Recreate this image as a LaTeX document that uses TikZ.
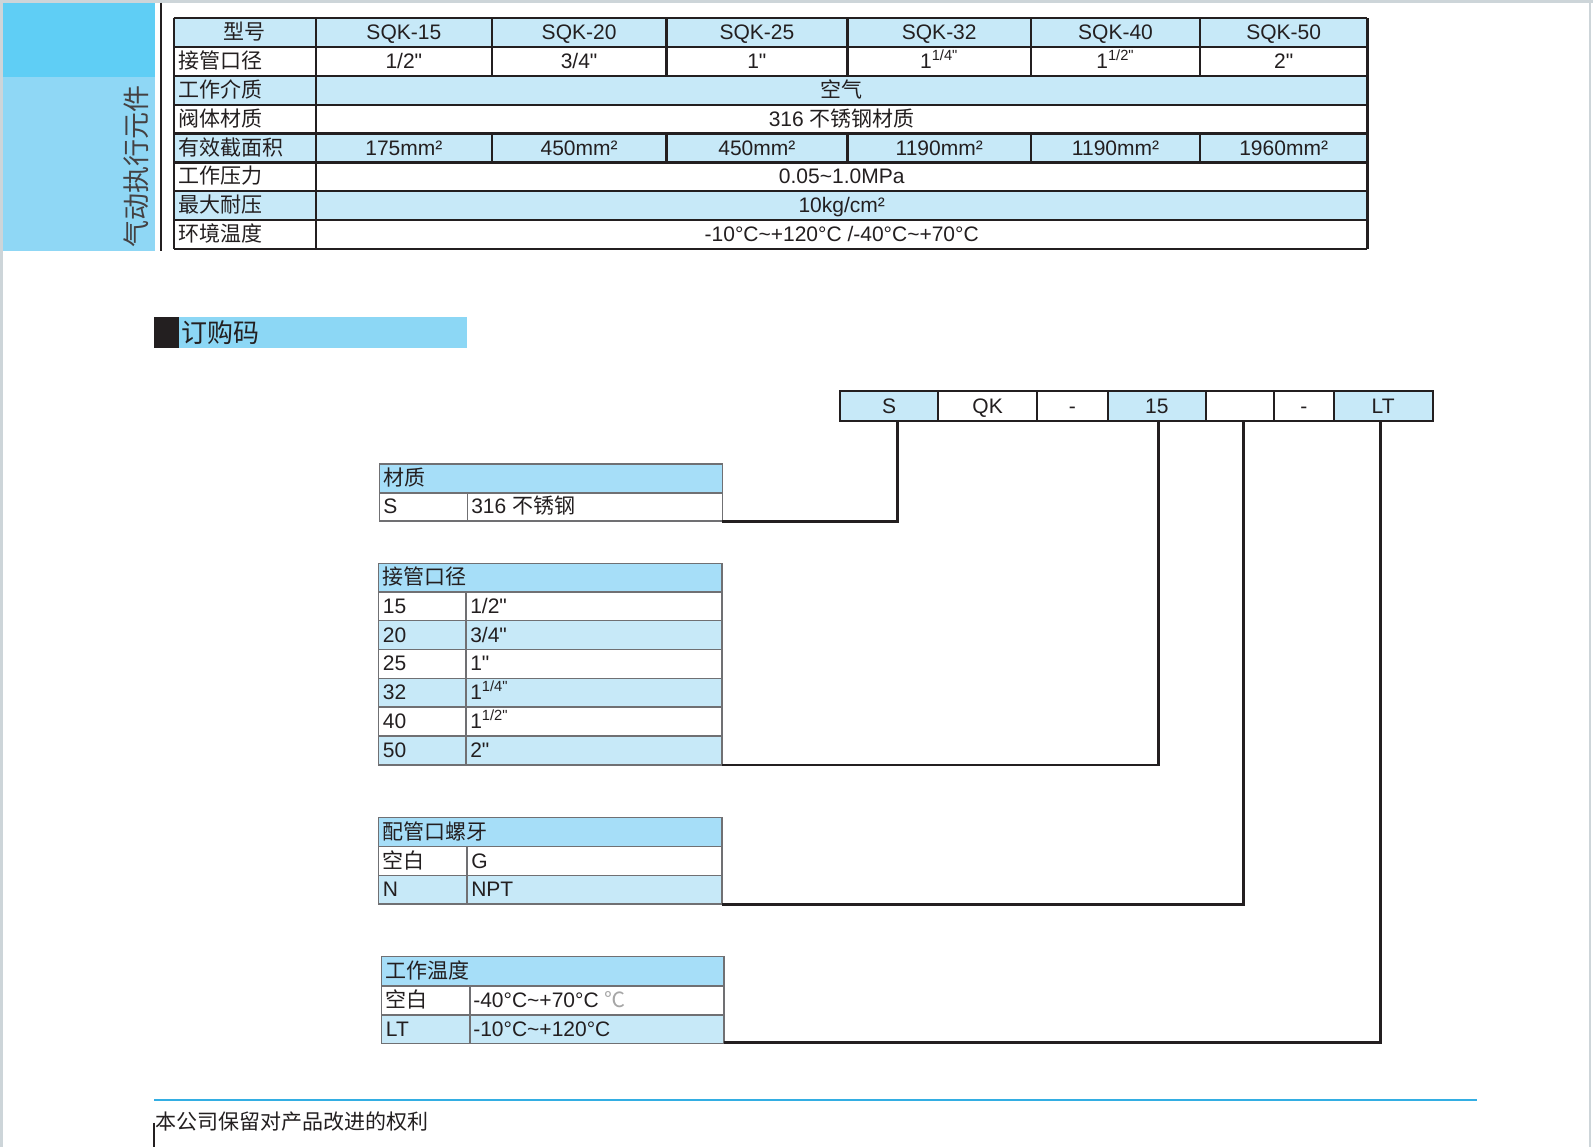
\documentclass[tikz,border=0pt]{standalone}
\usepackage{fontspec}
\setmainfont{Liberation Sans}
\newfontfamily\cjk{Noto Sans CJK SC}
\usetikzlibrary{positioning}

\definecolor{sidedark}{RGB}{95,206,245}
\definecolor{sidelight}{RGB}{143,215,245}
\definecolor{rowblue}{RGB}{199,233,248}
\definecolor{headblue}{RGB}{166,222,248}
\definecolor{titleblue}{RGB}{140,215,245}
\definecolor{footblue}{RGB}{51,174,227}
\definecolor{inkdark}{RGB}{35,31,32}
\definecolor{gridgrey}{RGB}{112,112,115}
\definecolor{edgegrey}{RGB}{205,213,217}

\tikzstyle{spec} = [draw=inkdark, line width=1.2pt]
\tikzstyle{grid} = [draw=gridgrey, line width=0.8pt]
\tikzstyle{txt} = [inner sep=0pt, text height=8.5pt, text depth=1.5pt, text=inkdark, font=\fontsize{10.5}{12}\selectfont]
\tikzstyle{lbl} = [txt, anchor=west]
\tikzstyle{codebox} = [rectangle, draw=inkdark, line width=1pt, minimum height=14.7pt, inner sep=0pt, outer sep=0pt, text height=8.5pt, text depth=1.5pt, text=inkdark, font=\fontsize{10.5}{12}\selectfont]
\tikzstyle{link} = [draw=inkdark, line width=1.35pt]

\newcommand{\tld}{\textasciitilde}
\newcommand{\inch}{\textquotedbl}

\begin{document}
\begin{tikzpicture}[x=0.508pt, y=-0.508pt]
        \useasboundingbox (0,0) rectangle (1568,1129);
        \fill[white] (0,0) rectangle (1568,1129);
        % page edges
        \fill[edgegrey] (0,0) rectangle (1568,2.5);
        \fill[edgegrey] (0,0) rectangle (2.5,1129);
        \fill[edgegrey] (1564.5,0) rectangle (1566.5,1129);

        % side tab
        \fill[sidedark] (2.5,2.5) rectangle (152.6,75.5);
        \fill[sidelight] (2.5,75.5) rectangle (152.6,246.7);
        \draw[inkdark, line width=1pt] (158.5,2.5) -- (158.5,246.7);
        \node (side) [rotate=90, inner sep=0pt, text=inkdark!85, font=\cjk\fontsize{13.5}{15}\selectfont] at (134.5,164) {气动执行元件};

        % spec table
        \foreach \k/\f in {0/rowblue,1/white,2/rowblue,3/white,4/rowblue,5/white,6/rowblue,7/white}
            \fill[\f] (171,{18+28.375*\k}) rectangle (1346,{18+28.375*(\k+1)});
        \foreach \k in {0,...,8}
            \draw[spec] (171,{18+28.375*\k}) -- (1346,{18+28.375*\k});
        \foreach \x in {171,311,1346}
            \draw[spec] (\x,18) -- (\x,245);
        \foreach \x in {484,656,834,1015,1181} {
            \draw[spec] (\x,18) -- (\x,74.75);
            \draw[spec] (\x,131.5) -- (\x,159.9);
        }
        \node (hModel) [txt] at (241,32.2) {\cjk 型号};
        \node (hPort) [lbl] at (175,60.6) {\cjk 接管口径};
        \node (hMedium) [lbl] at (175,88.9) {\cjk 工作介质};
        \node (hBody) [lbl] at (175,117.3) {\cjk 阀体材质};
        \node (hArea) [lbl] at (175,145.7) {\cjk 有效截面积};
        \node (hPress) [lbl] at (175,174.1) {\cjk 工作压力};
        \node (hMax) [lbl] at (175,202.4) {\cjk 最大耐压};
        \node (hTemp) [lbl] at (175,230.8) {\cjk 环境温度};
        \foreach \cx/\m/\d/\a in {397.5/15/{1/2\inch}/175, 570/20/{3/4\inch}/450, 745/25/{1\inch}/450, 924.5/32/{1\textsuperscript{1/4\inch}}/1190, 1098/40/{1\textsuperscript{1/2\inch}}/1190, 1263.5/50/{2\inch}/1960} {
            \node (m\m) [txt] at (\cx,32.2) {SQK-\m};
            \node (d\m) [txt] at (\cx,60.6) {\d};
            \node (a\m) [txt] at (\cx,145.7) {\a mm²};
        }
        \node (vMedium) [txt] at (828.5,88.9) {\cjk 空气};
        \node (vBody) [txt] at (828.5,117.3) {316 {\cjk 不锈钢材质}};
        \node (vPress) [txt] at (828.5,174.1) {0.05\tld1.0MPa};
        \node (vMax) [txt] at (828.5,202.4) {10kg/cm²};
        \node (vTemp) [txt] at (828.5,230.8) {-10°C\tld+120°C /-40°C\tld+70°C};

        % order code title
        \fill[inkdark] (151.8,311.7) rectangle (176.2,342.5);
        \fill[titleblue] (176.2,311.7) rectangle (459.9,342.5);
        \node (title) [anchor=west, inner sep=0pt, text=inkdark, font=\cjk\fontsize{13}{15}\selectfont] at (178.5,327) {订购码};

        % code bar
        \node (cS) [codebox, fill=rowblue, minimum width=49.3pt, anchor=west] at (826.6,399.8) {S};
        \node (cQK) [codebox, fill=white, minimum width=49.2pt, right=0pt of cS] {QK};
        \node (cDashA) [codebox, fill=white, minimum width=35.5pt, right=0pt of cQK] {-};
        \node (cSize) [codebox, fill=rowblue, minimum width=49pt, right=0pt of cDashA] {15};
        \node (cThread) [codebox, fill=white, minimum width=34pt, right=0pt of cSize] {};
        \node (cDashB) [codebox, fill=white, minimum width=30pt, right=0pt of cThread] {-};
        \node (cTemp) [codebox, fill=rowblue, minimum width=49.4pt, right=0pt of cDashB] {LT};

        % material table
        \draw[grid, fill=headblue] (373.5,457) rectangle (711,485);
        \draw[grid, fill=white] (373.5,485) rectangle (711,513);
        \draw[grid] (460,485) -- (460,513);
        \node (matH) [lbl] at (377,471) {\cjk 材质};
        \node (matS) [lbl] at (377,499) {S};
        \node (matS-v) [lbl] at (463.5,499) {316 {\cjk 不锈钢}};
        \coordinate (matEnd) at (711,513);

        % port size table
        \draw[grid, fill=headblue] (372.5,554.5) rectangle (710.5,582.5);
        \node (pipeH) [lbl] at (376.5,568.5) {\cjk 接管口径};
        \foreach \c/\v/\f [count=\i from 0] in {15/{1/2\inch}/white, 20/{3/4\inch}/rowblue, 25/{1\inch}/white, 32/{1\textsuperscript{1/4\inch}}/rowblue, 40/{1\textsuperscript{1/2\inch}}/white, 50/{2\inch}/rowblue} {
            \draw[grid, fill=\f] (372.5,{582.5+28.4*\i}) rectangle (710.5,{582.5+28.4*(\i+1)});
            \draw[grid] (458.5,{582.5+28.4*\i}) -- ++(0,28.4);
            \node (pipe\c) [lbl] at (376.5,{596.7+28.4*\i}) {\c};
            \node (pipe\c-v) [lbl] at (462.5,{596.7+28.4*\i}) {\v};
        }
        \coordinate (pipeEnd) at (710.5,752.9);

        % thread table
        \draw[grid, fill=headblue] (372.5,804.8) rectangle (710.5,833.3);
        \draw[grid, fill=white] (372.5,833.3) rectangle (710.5,861.8);
        \draw[grid, fill=rowblue] (372.5,861.8) rectangle (710.5,890);
        \draw[grid] (459.5,833.3) -- (459.5,890);
        \node (thrH) [lbl] at (376.5,819) {\cjk 配管口螺牙};
        \node (thrG) [lbl] at (376.5,847.5) {\cjk 空白};
        \node (thrG-v) [lbl] at (463.5,847.5) {G};
        \node (thrN) [lbl] at (376.5,876) {N};
        \node (thrN-v) [lbl] at (463.5,876) {NPT};
        \coordinate (thrEnd) at (710.5,890);

        % temperature table
        \draw[grid, fill=headblue] (375.7,941.6) rectangle (712.6,970.5);
        \draw[grid, fill=white] (375.7,970.5) rectangle (712.6,999.3);
        \draw[grid, fill=rowblue] (375.7,999.3) rectangle (712.6,1027.2);
        \draw[grid] (462.6,970.5) -- (462.6,1027.2);
        \node (tmpH) [lbl] at (379.5,956) {\cjk 工作温度};
        \node (tmpStd) [lbl] at (379.5,985) {\cjk 空白};
        \node (tmpStd-v) [lbl] at (465.5,985) {-40°C\tld+70°C {\cjk\color{gray!70}℃}};
        \node (tmpLT) [lbl] at (379.5,1013.3) {LT};
        \node (tmpLT-v) [lbl] at (465.5,1013.3) {-10°C\tld+120°C};
        \coordinate (tmpEnd) at (712.6,1026);

        % connectors
        \draw[link] ([xshift=4.2pt]cS.south) |- (matEnd);
        \draw[link] ([xshift=0.7pt]cSize.south) |- (pipeEnd);
        \draw[link] ([xshift=1.7pt]cThread.south) |- (thrEnd);
        \draw[link] ([xshift=-1.3pt]cTemp.south) |- (tmpEnd);

        % footer
        \draw[footblue, line width=1.35pt] (151.6,1082.7) -- (1453.4,1082.7);
        \node (foot) [lbl] at (152.5,1105) {\cjk 本公司保留对产品改进的权利};
        \draw[inkdark, line width=0.8pt] (151.6,1105) -- (151.6,1129);
    \end{tikzpicture}
\end{document}
